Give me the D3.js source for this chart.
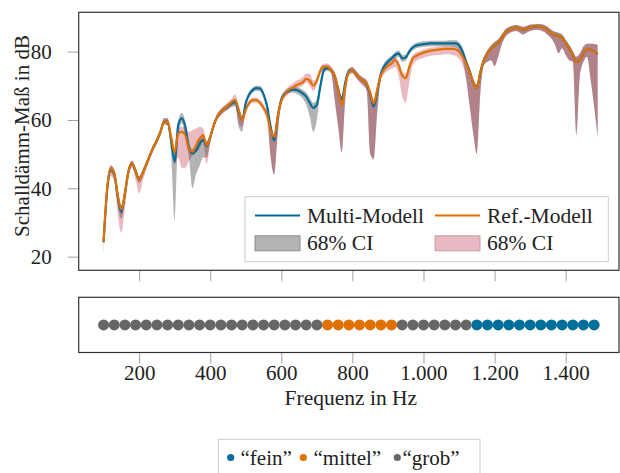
<!DOCTYPE html>
<html>
<head>
<meta charset="utf-8">
<script src="https://cdn.jsdelivr.net/npm/d3@7"></script>
<style>
  body { margin: 0; background: #fff; }
  text { font-family: 'Liberation Serif', 'Times New Roman', serif; fill: #222; }
</style>
</head>
<body>
<script>
// Frequencies (Hz) of the model curves
var freq = [100, 110, 120, 130, 140, 150, 160, 170, 180, 190,
  200, 210, 220, 230, 240, 250, 260, 270, 280, 290,
  300, 310, 320, 330, 340, 350, 360, 370, 380, 390,
  400, 410, 420, 430, 440, 450, 460, 470, 480, 490,
  500, 510, 520, 530, 540, 550, 560, 570, 580, 590,
  600, 610, 620, 630, 640, 650, 660, 670, 680, 690,
  700, 710, 720, 730, 740, 750, 760, 770, 780, 790,
  800, 810, 820, 830, 840, 850, 860, 870, 880, 890,
  900, 910, 920, 930, 940, 950, 960, 970, 980, 990,
  1000, 1010, 1020, 1030, 1040, 1050, 1060, 1070, 1080, 1090,
  1100, 1110, 1120, 1130, 1140, 1150, 1160, 1170, 1180, 1190,
  1200, 1210, 1220, 1230, 1240, 1250, 1260, 1270, 1280, 1290,
  1300, 1310, 1320, 1330, 1340, 1350, 1360, 1370, 1380, 1390,
  1400, 1410, 1420, 1430, 1440, 1450, 1460, 1470, 1480, 1490];

// Multi-Modell mean and 68% CI
var multi = [24.2, 39.5, 45.6, 44.2, 37.5, 33, 38.5, 45, 47.3, 45,
  42.5, 44.5, 47, 49.5, 52, 54, 56.5, 59.5, 59.5, 54,
  47.8, 58.5, 60.5, 58, 52, 50.2, 51, 53, 54.2, 52.3,
  55, 58.5, 61, 62.3, 63.3, 64, 64.8, 65.3, 62.5, 60,
  65, 67.5, 68.8, 69.3, 69.2, 67.5, 64, 58, 54, 61,
  66, 67.8, 68.5, 68.8, 68.8, 68.5, 67.8, 66.8, 65, 63.5,
  64.5, 70, 74.6, 75.2, 74.6, 73, 69, 66, 71, 74.3,
  74.6, 73.5, 72.3, 71.5, 70.5, 67.5, 63.9, 68.5, 73.5, 75.8,
  77, 78, 79, 79.5, 78, 78.3, 80, 81.2, 81.8, 82,
  82.2, 82.3, 82.4, 82.4, 82.4, 82.4, 82.4, 82.4, 82.4, 82.4,
  81.8, 80, 77, 74.2, 71, 69.4, 74, 77.5, 79.5, 80.8,
  81.8, 82.6, 84, 85.6, 86.3, 86.8, 87, 86.8, 86.4, 86.7,
  87.1, 87.3, 87.4, 87.3, 87, 86.3, 85.3, 84.8, 84.5, 84,
  82.5, 81, 79, 77, 77.5, 79.5, 80.8, 80.5, 80, 79.2];
var multiLo = [23.5, 38, 44.5, 43, 35, 31, 37, 44, 46.5, 44,
  41.5, 43.5, 46.2, 48.7, 51.2, 53.2, 55.7, 58.8, 58.5, 50,
  30.2, 55, 59, 55, 49, 40, 44, 46.5, 49, 49,
  53.5, 57.5, 60.2, 61.5, 62.5, 63, 63.8, 64, 58, 56.5,
  64, 66.7, 68, 68.5, 68.4, 66.5, 62.5, 49, 44, 56,
  65, 67, 67.7, 68, 67.8, 67.3, 66.3, 64.5, 61, 56.5,
  60, 68.5, 73.8, 74.4, 73.8, 66, 58, 50.5, 66, 73.3,
  73.8, 72.5, 71.3, 70.3, 68.8, 50, 48.3, 62, 72, 75,
  76.2, 77.2, 78, 78.5, 77, 77.3, 79.2, 80.4, 81, 81.2,
  81.4, 81.5, 81.6, 81.6, 81.6, 81.6, 81.6, 81.6, 81.5, 81.3,
  80.5, 78, 72, 64, 56, 50, 68, 76, 77, 77.5,
  75.8, 78.5, 82, 84.3, 85.2, 85.8, 86, 85.6, 85, 85.5,
  86, 86.3, 86.4, 86.2, 85.7, 84.8, 83.8, 82, 79.5, 81,
  79, 77.5, 77, 55.6, 73, 77, 78.5, 72, 64, 55];
var multiHi = [25.2, 41, 46.5, 45.5, 39, 35, 39.5, 46, 48, 46,
  43.5, 45.3, 47.8, 50.3, 52.8, 54.8, 57.3, 60.5, 60.5, 55.5,
  49, 60, 62, 59.5, 53.5, 51.5, 52.5, 54.5, 55.5, 53.5,
  56, 59.3, 61.8, 63.1, 64, 64.8, 65.5, 66, 63.5, 61,
  66, 68.3, 69.5, 70, 70, 68.3, 65, 59, 55.5, 62,
  66.8, 68.5, 69.3, 69.6, 69.6, 69.4, 68.8, 68, 66.5, 65,
  66, 71.5, 75.5, 76, 75.4, 73.8, 70, 67, 72, 75,
  75.4, 74.3, 73.1, 72.3, 71.5, 68.5, 65, 69.5, 74.5, 76.8,
  78, 78.8, 79.8, 80.3, 79, 79.1, 80.8, 82, 82.6, 82.8,
  83, 83.1, 83.2, 83.2, 83.2, 83.2, 83.2, 83.3, 83.3, 83.3,
  82.8, 81.2, 78, 75.2, 72, 70.4, 75, 78.5, 80.5, 81.8,
  82.8, 83.6, 85, 86.5, 87.2, 87.6, 87.8, 87.6, 87.3, 87.5,
  87.9, 88, 88.1, 88, 87.8, 87.2, 86.3, 85.8, 85.5, 85,
  83.5, 82, 80.2, 78.5, 79.5, 81.5, 82.3, 82.3, 82.2, 82];

// Ref.-Modell mean and 68% CI
var ref = [24.4, 40, 45.8, 44.5, 38, 33.8, 38.5, 45, 47.3, 45,
  42.4, 44.5, 47, 49.5, 52, 54, 56.5, 59.5, 59.5, 55,
  50.5, 56, 56.5, 55.5, 51.5, 50.7, 52.5, 54.5, 55.6, 52.5,
  55, 58.5, 61, 62.3, 63.3, 64.2, 65.2, 65.9, 63, 60,
  63, 65, 65.8, 65.8, 65, 63.5, 61.5, 57, 55, 61,
  65.5, 67.5, 68.7, 69.3, 70, 70.5, 71, 72, 71.5, 70,
  71.5, 74.5, 75.6, 75.6, 74.6, 73, 69, 64.4, 70, 74,
  74.6, 73.5, 72.3, 71.5, 70.7, 68, 64.8, 69, 73, 74.8,
  75.8, 76.5, 77.5, 76, 73, 72.2, 75.5, 78, 78.8, 79.3,
  79.7, 80, 80.3, 80.4, 80.6, 80.7, 80.8, 80.8, 80.8, 80.7,
  80, 78.5, 76.5, 74, 71, 69.4, 74, 77.5, 79.5, 80.8,
  81.8, 82.6, 84, 85.6, 86.3, 86.8, 87, 86.8, 86.4, 86.7,
  87.1, 87.3, 87.4, 87.3, 87, 86.3, 85.3, 84.8, 84.5, 84,
  82.5, 81, 79, 77, 77.5, 79.5, 80.8, 80.5, 80, 79.2];
var refLo = [20.5, 36, 43.5, 42, 32, 27, 34, 43, 46, 42.5,
  38.5, 42, 45.5, 48.5, 51, 53, 55.5, 58.5, 58.5, 53,
  47, 49, 46, 46, 48, 49.5, 50.5, 51.5, 53.5, 47,
  53, 57.5, 60, 61.3, 62.3, 63.2, 64, 64.5, 59, 58,
  62, 64.2, 65, 65, 64.2, 62.5, 59.5, 49, 44, 56,
  64.5, 66.5, 67.7, 68.3, 69, 69.5, 70, 71, 70, 68.5,
  70.3, 73.5, 74.6, 74.6, 73.6, 66, 58, 50.5, 66, 73,
  73.6, 72.3, 71, 70, 68.5, 50, 48.8, 63, 71.5, 73.5,
  74.5, 75, 75.5, 73, 67, 65, 71, 76, 77.3, 77.8,
  78.2, 78.5, 78.8, 78.9, 79, 79.1, 79.2, 79.2, 79, 78.8,
  77.8, 76, 72, 64, 56, 50, 68, 76, 77, 77.5,
  75.8, 78.5, 82, 84.3, 85.2, 85.8, 86, 85.6, 85, 85.5,
  86, 86.3, 86.4, 86.2, 85.7, 84.8, 83.8, 82, 79.5, 81,
  79, 77.5, 77, 55.6, 73, 77, 78.5, 72, 64, 55];
var refHi = [25.5, 41, 46.8, 45.5, 39, 35, 39.5, 46, 48.2, 46,
  43.5, 45.3, 47.8, 50.3, 52.8, 54.8, 57.3, 60.5, 60.5, 56,
  51.5, 57.5, 58, 57.5, 56.5, 57, 57.5, 58, 57.5, 54,
  56, 59.3, 61.8, 63.3, 64.3, 65.2, 66.3, 67.5, 64, 61,
  64, 65.8, 66.6, 66.6, 65.8, 64.5, 62.5, 58, 56, 62,
  66.5, 68.5, 69.8, 70.5, 71.3, 71.8, 72.5, 73.5, 73.5, 71.5,
  72.5, 75.5, 76.5, 76.5, 75.5, 74, 70, 65.5, 71, 75,
  75.5, 74.5, 73.3, 72.5, 71.8, 69, 66, 70, 74, 75.8,
  76.8, 77.5, 78.5, 77.2, 74.2, 73.5, 76.7, 79, 79.8, 80.2,
  80.6, 80.9, 81.2, 81.3, 81.5, 81.6, 81.7, 81.7, 81.7, 81.6,
  81, 79.6, 77.5, 75.2, 72, 70.4, 75, 78.5, 80.5, 81.8,
  82.8, 83.6, 85, 86.5, 87.2, 87.6, 87.8, 87.6, 87.3, 87.5,
  87.9, 88, 88.1, 88, 87.8, 87.2, 86.3, 85.8, 85.5, 85,
  83.5, 82, 80.2, 78.5, 79.5, 81.5, 82.3, 82.3, 82.2, 82];

// Frequency classes shown in the lower strip
var dotFreq = [100, 130, 160, 190, 220, 250, 280, 310, 340, 370, 400, 430,
  460, 490, 520, 550, 580, 610, 640, 670, 700, 730, 760, 790, 820, 850,
  880, 910, 940, 970, 1000, 1030, 1060, 1090, 1120, 1150, 1180, 1210,
  1240, 1270, 1300, 1330, 1360, 1390, 1420, 1450, 1480];
var dotClass = ['grob', 'grob', 'grob', 'grob', 'grob', 'grob', 'grob', 'grob',
  'grob', 'grob', 'grob', 'grob', 'grob', 'grob', 'grob', 'grob', 'grob',
  'grob', 'grob', 'grob', 'grob', 'mittel', 'mittel', 'mittel', 'mittel',
  'mittel', 'mittel', 'mittel', 'grob', 'grob', 'grob', 'grob', 'grob',
  'grob', 'grob', 'fein', 'fein', 'fein', 'fein', 'fein', 'fein', 'fein',
  'fein', 'fein', 'fein', 'fein', 'fein'];
var classNames = ['fein', 'mittel', 'grob'];

var yTicks = [20, 40, 60, 80];
var xTicks = [200, 400, 600, 800, 1000, 1200, 1400];

var blue = '#006e9a', orange = '#e07000', grey = '#666666';
var classColor = { fein: blue, mittel: orange, grob: grey };

var svg = d3.select('body').append('svg')
  .attr('width', 620).attr('height', 473);

// plot areas
var left = 78.7, right = 619;
var main = { top: 12.3, bottom: 270.3 };
var strip = { top: 297.3, bottom: 352.5 };

var x = d3.scaleLinear().domain([30, 1550]).range([left, right]);
var y = d3.scaleLinear().domain([16, 91.5]).range([main.bottom, main.top]);

var de = d3.formatLocale({ decimal: ',', thousands: '.', grouping: [3], currency: ['', ' €'] });
var fmt = de.format(',');

svg.append('clipPath').attr('id', 'clipMain')
  .append('rect').attr('x', left).attr('y', main.top)
  .attr('width', right - left).attr('height', main.bottom - main.top);

var rows = freq.map(function (f, i) {
  return { f: f, m: multi[i], mLo: multiLo[i], mHi: multiHi[i], r: ref[i], rLo: refLo[i], rHi: refHi[i] };
});

var plot = svg.append('g').attr('clip-path', 'url(#clipMain)');

function band(lo, hi) {
  return d3.area().curve(d3.curveMonotoneX)
    .x(function (d) { return x(d.f); })
    .y0(function (d) { return y(d[lo]); })
    .y1(function (d) { return y(d[hi]); });
}
function line(key) {
  return d3.line().curve(d3.curveMonotoneX)
    .x(function (d) { return x(d.f); })
    .y(function (d) { return y(d[key]); });
}

// confidence bands
plot.append('path').datum(rows).attr('d', band('mLo', 'mHi'))
  .attr('fill', '#b3b3b3');
plot.append('path').datum(rows).attr('d', band('rLo', 'rHi'))
  .attr('fill', 'rgb(173,0,26)').attr('fill-opacity', 0.27);

// mean curves
plot.append('path').datum(rows).attr('d', line('m'))
  .attr('fill', 'none').attr('stroke', blue).attr('stroke-width', 2.2);
plot.append('path').datum(rows).attr('d', line('r'))
  .attr('fill', 'none').attr('stroke', orange).attr('stroke-width', 2.2);

// y axis
var yAxis = svg.append('g').attr('transform', 'translate(' + left + ',0)')
  .call(d3.axisLeft(y).tickValues(yTicks).tickSize(11).tickPadding(16));
// x ticks under main plot (no labels)
var xAxisMain = svg.append('g').attr('transform', 'translate(0,' + main.bottom + ')')
  .call(d3.axisBottom(x).tickValues(xTicks).tickSize(11).tickFormat(''));

// frame main
svg.append('rect').attr('x', left).attr('y', main.top)
  .attr('width', right - left).attr('height', main.bottom - main.top)
  .attr('fill', 'none').attr('stroke', '#333').attr('stroke-width', 1.2);

// legend main
var lg = svg.append('g');
lg.append('rect').attr('x', 245).attr('y', 196.7).attr('width', 363.3).attr('height', 65)
  .attr('fill', '#fff').attr('stroke', '#cccccc').attr('stroke-width', 1);
var legItems = [
  { x: 255, y: 215.5, kind: 'line', color: blue, label: 'Multi-Modell' },
  { x: 435, y: 215.5, kind: 'line', color: orange, label: 'Ref.-Modell' },
  { x: 255, y: 243.3, kind: 'rect', fill: '#b3b3b3', stroke: '#8c8c8c', label: '68% CI' },
  { x: 435, y: 243.3, kind: 'rect', fill: '#e9b8c2', stroke: '#c4a2a9', label: '68% CI' }
];
legItems.forEach(function (d) {
  if (d.kind === 'line') {
    lg.append('line').attr('x1', d.x).attr('x2', d.x + 45).attr('y1', d.y).attr('y2', d.y)
      .attr('stroke', d.color).attr('stroke-width', 2.2);
  } else {
    lg.append('rect').attr('x', d.x).attr('y', d.y - 7.5).attr('width', 45).attr('height', 15)
      .attr('fill', d.fill).attr('stroke', d.stroke).attr('stroke-width', 1);
  }
  lg.append('text').attr('x', d.x + 52).attr('y', d.y + 7).style('font-size', '21.5px').text(d.label);
});

// y label
svg.append('text').attr('transform', 'translate(29,136) rotate(-90)')
  .attr('text-anchor', 'middle').style('font-size', '21px').text('Schalldämm-Maß in dB');

// lower strip
var sx = svg.append('g').attr('transform', 'translate(0,' + strip.bottom + ')')
  .call(d3.axisBottom(x).tickValues(xTicks).tickSize(11).tickPadding(2).tickFormat(fmt));

var dots = dotFreq.map(function (f, i) { return { f: f, c: dotClass[i] }; });
var dotsSorted = [];
classNames.forEach(function (c) {
  dots.forEach(function (d) { if (d.c === c) dotsSorted.push(d); });
});
svg.append('g').selectAll('circle').data(dotsSorted).enter().append('circle')
  .attr('cx', function (d) { return x(d.f); })
  .attr('cy', (strip.top + strip.bottom) / 2)
  .attr('r', 5.5)
  .attr('fill', function (d) { return classColor[d.c]; });

svg.append('rect').attr('x', left).attr('y', strip.top)
  .attr('width', right - left).attr('height', strip.bottom - strip.top)
  .attr('fill', 'none').attr('stroke', '#333').attr('stroke-width', 1.2);

svg.append('text').attr('x', (left + right) / 2 + 2).attr('y', 405)
  .attr('text-anchor', 'middle').style('font-size', '21.5px').text('Frequenz in Hz');

// axis styling
svg.selectAll('.domain').remove();
svg.selectAll('.tick line').attr('stroke', '#a0a0a0');
svg.selectAll('.tick text').style('font-size', '21px').attr('fill', '#222')
  .style('font-family', "'Liberation Serif', serif");

// class legend
var cl = svg.append('g');
cl.append('rect').attr('x', 218.3).attr('y', 439.3).attr('width', 261.7).attr('height', 45)
  .attr('fill', '#fff').attr('stroke', '#cccccc');
var clItems = [
  { c: 'fein', dx: 230.7, tx: 240.5 },
  { c: 'mittel', dx: 303.3, tx: 313.5 },
  { c: 'grob', dx: 397.3, tx: 402.5 }
];
clItems.forEach(function (d) {
  cl.append('circle').attr('cx', d.dx).attr('cy', 457.5).attr('r', 3.6).attr('fill', classColor[d.c]);
  cl.append('text').attr('x', d.tx).attr('y', 464.5).style('font-size', '21px')
    .text('\u201C' + d.c + '\u201D');
});
</script>
</body>
</html>
